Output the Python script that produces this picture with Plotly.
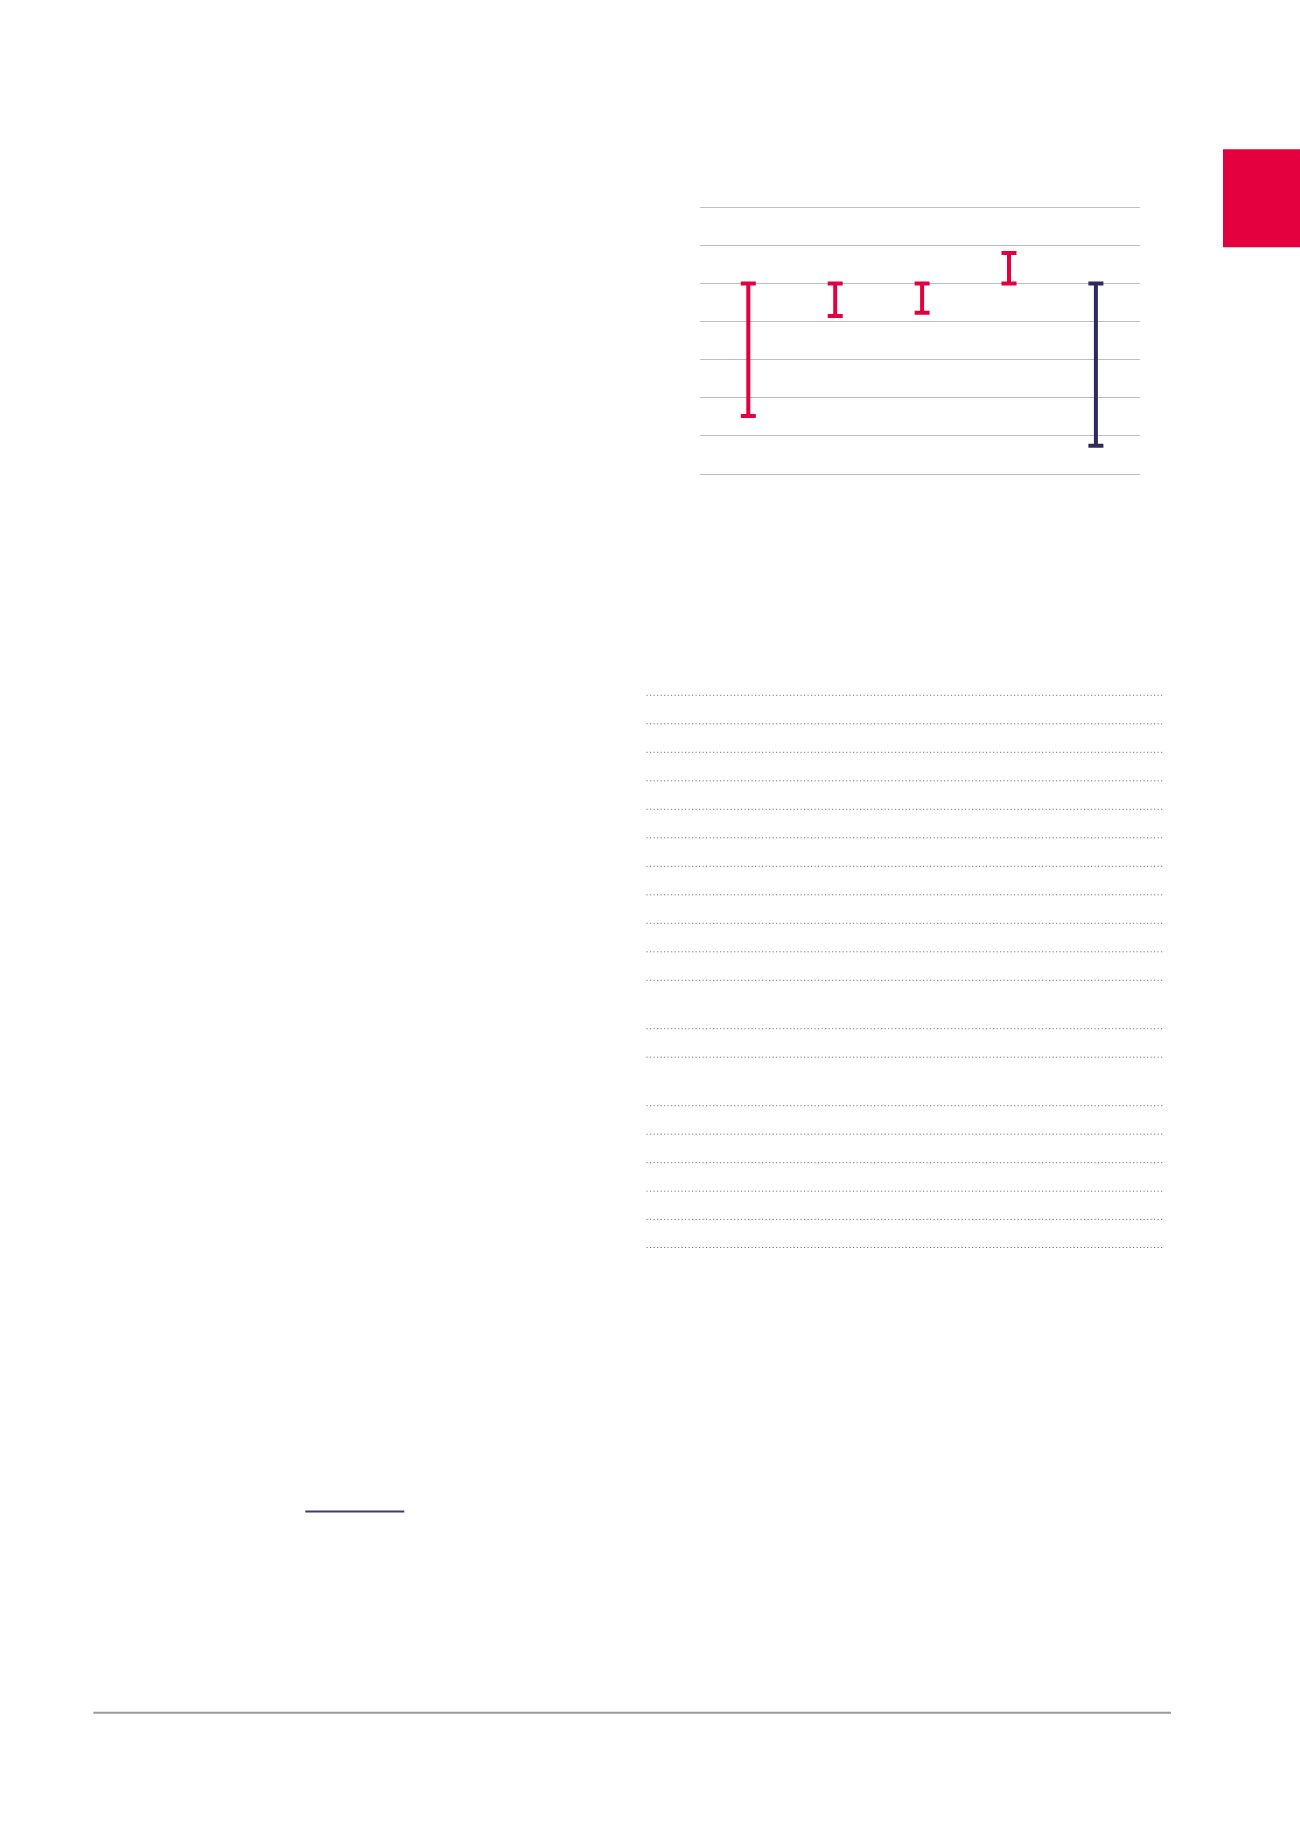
import plotly.graph_objects as go

# ---- data ----
categories = ["A", "B", "C", "D", "E"]
range_low = [1.52, 4.15, 4.23, 5.00, 0.74]
range_high = [5.00, 5.00, 5.00, 5.80, 5.00]
bar_colors = ["#E4003F", "#E4003F", "#E4003F", "#E4003F", "#2F2A5C"]
grid_values = [0, 1, 2, 3, 4, 5, 6, 7]

W, H = 1300, 1839

def px(x):
    return x / W

def py(y):
    return 1 - y / H

fig = go.Figure()
for cat, lo, hi, col in zip(categories, range_low, range_high, bar_colors):
    mid = (lo + hi) / 2
    half = (hi - lo) / 2
    fig.add_trace(go.Scatter(
        x=[cat], y=[mid], mode="markers",
        marker=dict(size=1, color="rgba(0,0,0,0)"),
        error_y=dict(type="data", array=[half], symmetric=True,
                     color=col, thickness=4, width=7.5),
        showlegend=False, hoverinfo="skip",
    ))

# axis geometry
unit = 38.1
y_top_grid, y_bot_grid = 207.3, 474.0
pad = 0.5
x_left, x_right = 700, 1140
x_first, x_step = 748.3, 86.9

fig.update_layout(
    width=W, height=H,
    margin=dict(l=0, r=0, t=0, b=0),
    paper_bgcolor="white", plot_bgcolor="white",
    hovermode=False,
    xaxis=dict(
        domain=[px(x_left), px(x_right)],
        type="category",
        range=[-(x_first - x_left) / x_step, (x_right - x_first) / x_step],
        showgrid=False, showticklabels=False, zeroline=False,
        showline=False, ticks="",
    ),
    yaxis=dict(
        domain=[py(y_bot_grid + pad * unit), py(y_top_grid - pad * unit)],
        range=[grid_values[0] - pad, grid_values[-1] + pad],
        tickvals=grid_values, showticklabels=False, ticks="",
        showgrid=True, gridcolor="#BDBDBD", gridwidth=1.4,
        zeroline=False, showline=False,
    ),
)

shapes = []
# red tab at top right
shapes.append(dict(type="rect", xref="paper", yref="paper",
                   x0=px(1223), x1=px(1300), y0=py(247.3), y1=py(149.3),
                   fillcolor="#E4003F", line=dict(width=0)))
# dotted table rules
rule_y = [695.3, 723.8, 752.3, 780.8, 809.3, 837.8, 866.3, 894.8, 923.3,
          951.8, 980.3, 1028.7, 1057.2, 1105.7, 1134.2, 1162.7, 1191.2,
          1219.4, 1247.5]
for y in rule_y:
    shapes.append(dict(type="line", xref="paper", yref="paper",
                       x0=px(646.5), x1=px(1164), y0=py(y), y1=py(y),
                       line=dict(color="#7A7A7A", width=1, dash="1.2px,2.3px")))
# navy underline
shapes.append(dict(type="line", xref="paper", yref="paper",
                   x0=px(305.3), x1=px(404.3), y0=py(1511.5), y1=py(1511.5),
                   line=dict(color="#403C73", width=2)))
# bottom rule
shapes.append(dict(type="line", xref="paper", yref="paper",
                   x0=px(93.3), x1=px(1171), y0=py(1712.7), y1=py(1712.7),
                   line=dict(color="#9B9B9B", width=2)))
fig.update_layout(shapes=shapes)

fig.write_html(
    "out.html",
    config={"displayModeBar": False},
    post_script="document.body.style.margin='0';document.body.style.overflow='hidden';",
)
